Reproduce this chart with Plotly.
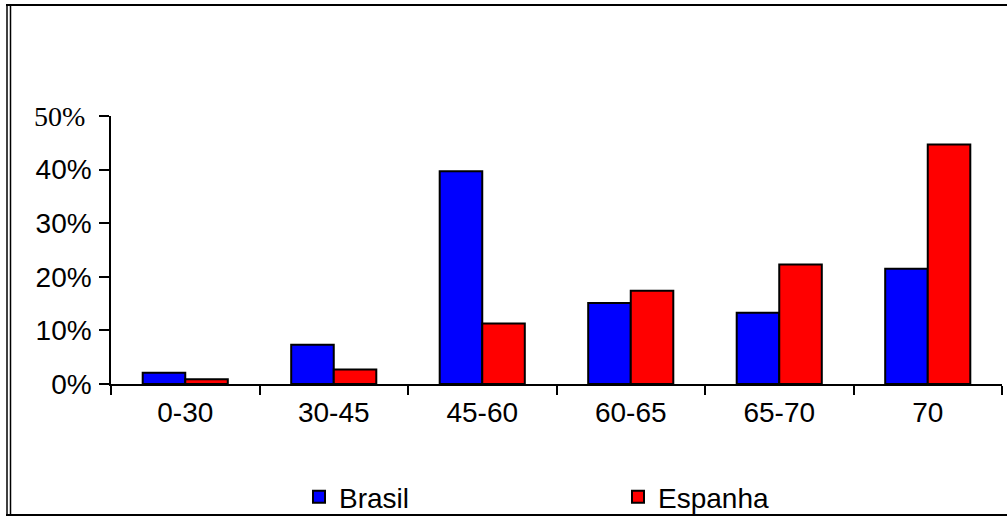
import plotly.graph_objects as go

categories = ["0-30", "30-45", "45-60", "60-65", "65-70", "70"]
brasil = [0.021, 0.073, 0.397, 0.151, 0.133, 0.215]
espanha = [0.009, 0.027, 0.113, 0.174, 0.223, 0.447]
ytick_vals = [0, 0.1, 0.2, 0.3, 0.4, 0.5]
ytick_text = ["0%", "10%", "20%", "30%", "40%", ""]

W, H = 1007, 517
L, R, T, B = 111, 5, 116, 133
pw, ph = W - L - R, H - T - B

def px(x):
    return (x - L) / pw

def py(y):
    return (H - B - y) / ph

fig = go.Figure()
fig.add_trace(go.Bar(x=categories, y=brasil, name="Brasil",
                     marker=dict(color="#0000FF", line=dict(color="black", width=2))))
fig.add_trace(go.Bar(x=categories, y=espanha, name="Espanha",
                     marker=dict(color="#FF0000", line=dict(color="black", width=2))))

font = dict(family="Liberation Sans, Arial, sans-serif", size=28, color="black")

fig.update_layout(
    width=W, height=H,
    margin=dict(l=L, r=R, t=T, b=B, autoexpand=False),
    paper_bgcolor="white", plot_bgcolor="white",
    barmode="group", bargap=0.427, bargroupgap=0,
    font=font,
    showlegend=True,
    legend=dict(orientation="h", x=299 / W, y=1 - 472 / H, xanchor="left", yanchor="top",
                xref="container", yref="container", entrywidth=274, entrywidthmode="pixels",
                font=font, bgcolor="rgba(0,0,0,0)"),
    xaxis=dict(type="category", showline=True, linecolor="black", linewidth=1.5,
               ticks="outside", ticklen=9, tickwidth=1.5, tickcolor="black",
               tickson="boundaries", showgrid=False, zeroline=False, automargin=False,
               ticklabelstandoff=3, tickfont=font),
    yaxis=dict(range=[0, 0.5], tickvals=ytick_vals, ticktext=ytick_text,
               showline=True, linecolor="black", linewidth=1.5,
               ticks="outside", ticklen=10, tickwidth=1.5, tickcolor="black",
               showgrid=False, zeroline=False, automargin=False,
               ticklabelstandoff=2, tickfont=font),
)

fig.add_annotation(xref="paper", yref="y", x=0, y=0.5, xanchor="right", yanchor="middle",
                   xshift=-24, text="50%", showarrow=False,
                   font=dict(family="Liberation Serif, Times New Roman, serif", size=28, color="black"))

# outer frame
line = dict(color="black", width=2)
fig.add_shape(type="line", xref="paper", yref="paper", x0=px(6), x1=px(1007), y0=py(5), y1=py(5), line=line)
fig.add_shape(type="line", xref="paper", yref="paper", x0=px(6), x1=px(1007), y0=py(515), y1=py(515), line=line)
fig.add_shape(type="line", xref="paper", yref="paper", x0=px(7), x1=px(7), y0=py(5), y1=py(515), line=dict(color="black", width=1.5))
fig.add_shape(type="line", xref="paper", yref="paper", x0=px(10.5), x1=px(10.5), y0=py(5), y1=py(515), line=dict(color="black", width=1.5))

fig.write_html("out.html", config={"displayModeBar": False},
               post_script="document.body.style.margin='0';document.body.style.overflow='hidden';")
